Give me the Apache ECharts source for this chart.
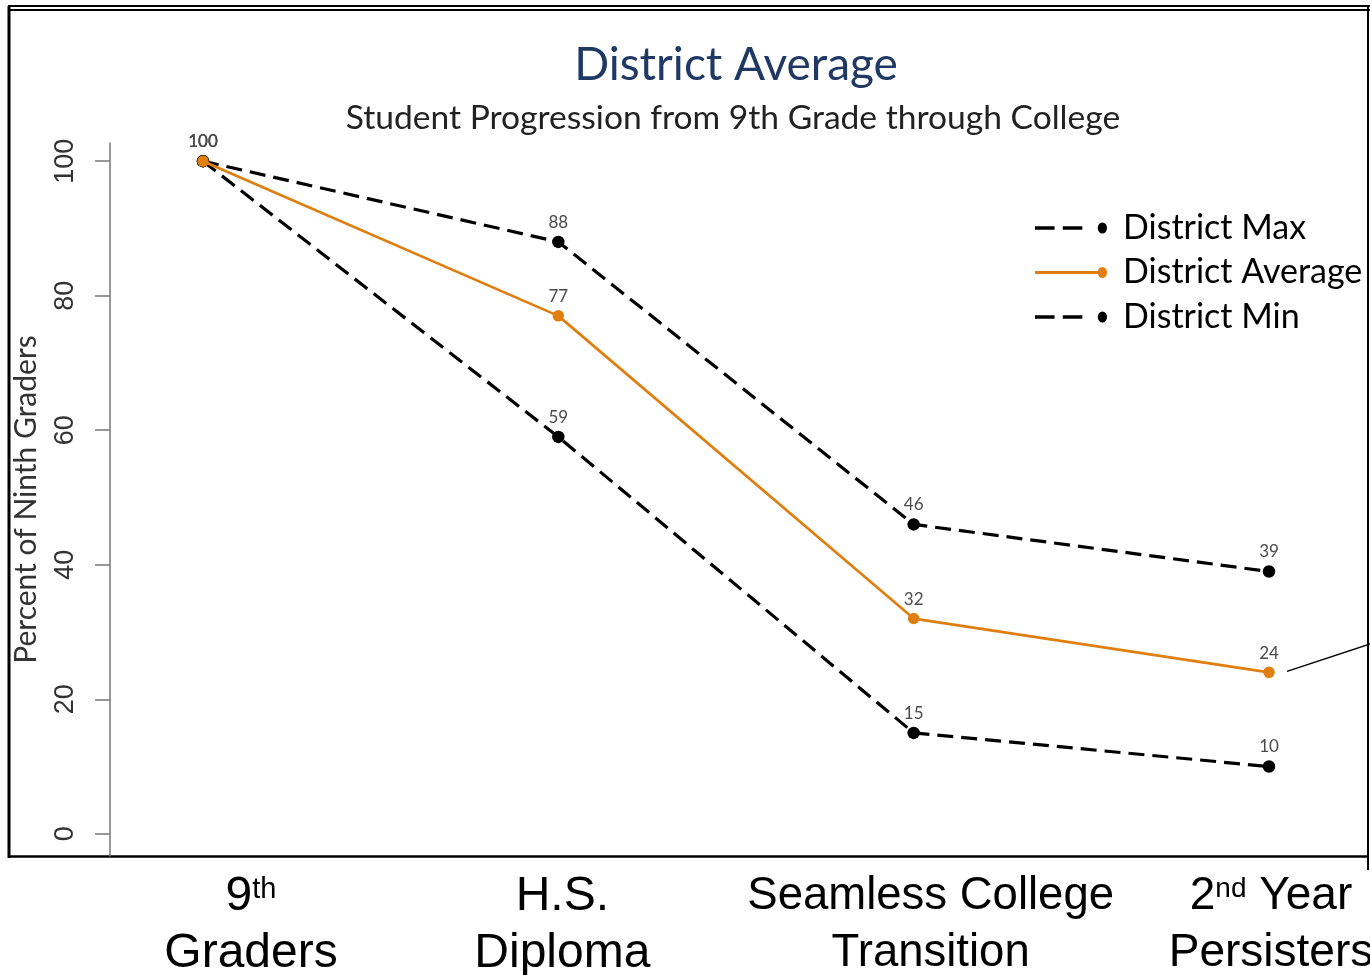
<!DOCTYPE html>
<html>
<head>
<meta charset="utf-8">
<script src="https://cdn.jsdelivr.net/npm/echarts@6/dist/echarts.min.js"></script>
<style>
  html, body { margin: 0; padding: 0; background: #fff; overflow: hidden; }
  #chart { width: 1370px; height: 975px; }
</style>
</head>
<body>
<div id="chart"></div>
<script>
// Stages of the progression and the share of ninth graders reaching each one
const categories = ['9th Graders', 'H.S. Diploma', 'Seamless College Transition', '2nd Year Persisters'];
const districtMax = [100, 88, 46, 39];
const districtAvg = [100, 77, 32, 24];
const districtMin = [100, 59, 15, 10];
const yTicks = [0, 20, 40, 60, 80, 100];

const seriesNames = ['District Max', 'District Average', 'District Min'];
const ORANGE = '#E07F10';
const CAL = 'Lato, "Open Sans", sans-serif';
const ARIAL = '"Liberation Sans", Arial, sans-serif';

// horizontal nudge and font size for each stage label under the plot
const labelShift = [48, 4, 17, 2];
const labelSize = [48, 48, 45.5, 46];

// two-line stage label, with ordinal suffixes set as superscripts
function stageLabel(value, index) {
  const cut = value.lastIndexOf(' ');
  const first = value.slice(0, cut);
  const second = value.slice(cut + 1);
  const p = 'p' + index;
  const m = first.match(/^(\d+)(st|nd|rd|th)(.*)$/);
  let line1;
  if (m) {
    line1 = '{' + p + '|' + m[1] + '}{sup' + index + '|' + m[2] + '}' + (m[3] ? '{m' + index + '|' + m[3] + '}' : '');
  } else {
    line1 = '{' + p + '|' + first + '}';
  }
  return line1 + '\n{' + p + '|' + second + '}';
}

const rich = {};
labelShift.forEach((s, i) => {
  const fs = labelSize[i];
  rich['p' + i] = { fontFamily: ARIAL, fontSize: fs, lineHeight: 57, color: '#000', padding: [0, 0, 0, 2 * s] };
  rich['m' + i] = { fontFamily: ARIAL, fontSize: fs, lineHeight: 57, color: '#000' };
  rich['sup' + i] = { fontFamily: ARIAL, fontSize: Math.round(fs * 0.6), lineHeight: 30, verticalAlign: 'top', padding: [7, 0, 0, 0], color: '#000' };
});

// legend glyphs: dashes + dot, or solid line + dot
const dashIcon = 'path://M0,3.5h19v3h-19z M27,3.5h19v3h-19z M61,5a4.5,4.5 0 1,1 9,0a4.5,4.5 0 1,1 -9,0z';
const solidIcon = 'path://M0,3.7h62v2.6h-62z M61,5a4.5,4.5 0 1,1 9,0a4.5,4.5 0 1,1 -9,0z';

const pointLabel = {
  show: true,
  position: 'top',
  distance: 5,
  fontFamily: CAL,
  fontSize: 17,
  color: '#4a4a4a'
};

function lineSeries(name, data, color, dashed) {
  return {
    name: name,
    type: 'line',
    data: data,
    symbol: 'circle',
    symbolSize: dashed ? 12.5 : 11.5,
    itemStyle: { color: color },
    lineStyle: { color: color, width: dashed ? 3.2 : 2.7, type: dashed ? [16, 8] : 'solid' },
    label: pointLabel,
    z: dashed ? 3 : 4
  };
}

const chart = echarts.init(document.getElementById('chart'), null, { renderer: 'canvas' });

const option = {
  animation: false,
  backgroundColor: '#fff',
  title: [
    {
      text: 'District Average',
      left: 731, top: 37, textAlign: 'center',
      textStyle: { fontFamily: CAL, fontSize: 46, fontWeight: 'normal', color: '#1F3864' }
    },
    {
      text: 'Student Progression from 9th Grade through College',
      left: 728, top: 96, textAlign: 'center',
      textStyle: { fontFamily: CAL, fontSize: 33.6, fontWeight: 'normal', color: '#222' }
    }
  ],
  legend: {
    orient: 'vertical',
    left: 1030, top: 203,
    itemWidth: 72, itemHeight: 11,
    itemGap: 4.5,
    symbolKeepAspect: false,
    textStyle: { fontFamily: CAL, fontSize: 34, color: '#000', lineHeight: 40, padding: [0, 0, 0, 11] },
    data: [
      { name: seriesNames[0], icon: dashIcon },
      { name: seriesNames[1], icon: solidIcon },
      { name: seriesNames[2], icon: dashIcon }
    ]
  },
  grid: { left: 203, right: 101, top: 143, bottom: 119, containLabel: false, outerBoundsMode: 'none' },
  xAxis: {
    type: 'category',
    data: categories,
    boundaryGap: false,
    axisLine: { show: false },
    axisTick: { show: false },
    splitLine: { show: false },
    axisLabel: { margin: 12, formatter: stageLabel, rich: rich, interval: 0, hideOverlap: false }
  },
  yAxis: {
    type: 'value',
    min: -3.3, max: 102.7,
    offset: 93,
    name: 'Percent of Ninth Graders',
    nameLocation: 'middle',
    nameRotate: 90,
    nameGap: 69,
    nameTextStyle: { fontFamily: CAL, fontSize: 30, color: '#333' },
    axisLine: { show: true, lineStyle: { color: '#777', width: 1.5 } },
    axisTick: { show: true, length: 15, customValues: yTicks, lineStyle: { color: '#777', width: 1.5 } },
    axisLabel: {
      customValues: yTicks, rotate: 90, margin: 31,
      fontFamily: ARIAL, fontSize: 27, color: '#333'
    },
    splitLine: { show: false }
  },
  series: [
    lineSeries(seriesNames[0], districtMax, '#000', true),
    lineSeries(seriesNames[1], districtAvg, ORANGE, false),
    lineSeries(seriesNames[2], districtMin, '#000', true)
  ]
};

chart.setOption(option);

// frame around the plot, plus the callout leader from the last average point
const last = districtAvg.length - 1;
const pt = chart.convertToPixel({ seriesIndex: 1 }, [last, districtAvg[last]]);
chart.setOption({
  graphic: [
    { type: 'line', shape: { x1: 8, y1: 6, x2: 1370, y2: 6 }, style: { stroke: '#000', lineWidth: 2 }, silent: true },
    { type: 'line', shape: { x1: 8, y1: 10, x2: 1370, y2: 10 }, style: { stroke: '#000', lineWidth: 2 }, silent: true },
    { type: 'line', shape: { x1: 9, y1: 6, x2: 9, y2: 858 }, style: { stroke: '#000', lineWidth: 3 }, silent: true },
    { type: 'line', shape: { x1: 8, y1: 856.5, x2: 1368, y2: 856.5 }, style: { stroke: '#000', lineWidth: 2.5 }, silent: true },
    { type: 'line', shape: { x1: 1368, y1: 6, x2: 1368, y2: 870 }, style: { stroke: '#000', lineWidth: 2 }, silent: true },
    { type: 'line', shape: { x1: pt[0] + 18, y1: pt[1] - 1, x2: 1372, y2: pt[1] - 29 }, style: { stroke: '#000', lineWidth: 1.5 }, silent: true }
  ]
});
</script>
</body>
</html>
